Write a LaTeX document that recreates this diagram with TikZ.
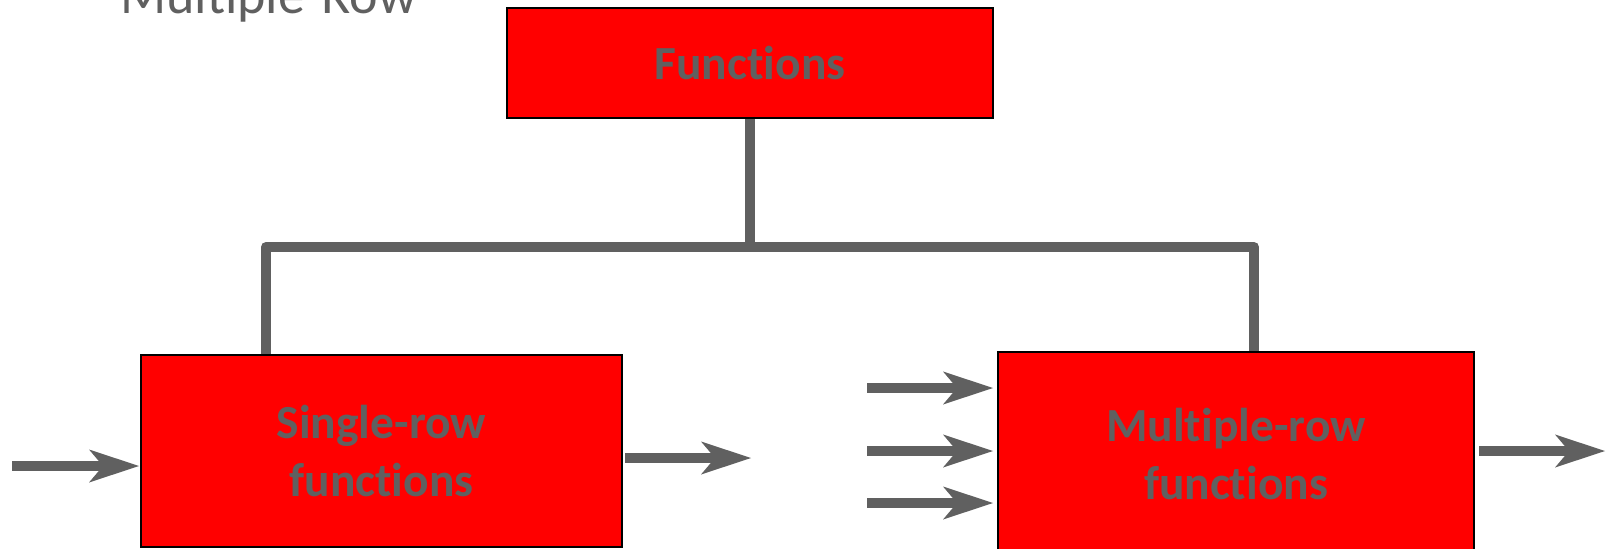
\documentclass[tikz,border=0pt]{standalone}
\usepackage{fontspec}
\setmainfont{Carlito}[Ligatures={NoCommon,NoRare,NoContextual}, Contextuals={NoAlternate}]
\usetikzlibrary{arrows.meta}
\definecolor{linegray}{HTML}{606060}
\definecolor{boxred}{HTML}{FF0000}
\tikzset{
  box/.style={draw=black, line width=2pt, fill=boxred, text=linegray,
    font=\fontsize{47.5}{57.5}\selectfont\bfseries, align=center, inner sep=0pt},
  conn/.style={draw=linegray, line width=10pt, line cap=butt, line join=round},
  arr/.style={draw=linegray, line width=10pt, line cap=butt,
    -{Stealth[length=50pt, width=33pt, inset=14pt, line width=0pt]}},
}
\begin{document}
\begin{tikzpicture}[x=1pt, y=-1pt]
\useasboundingbox (0,0) rectangle (1607,549);
\clip (0,0) rectangle (1607,549);
\fill[white] (0,0) rectangle (1607,549);
% title (cut off at top, as in the reference)
\node[anchor=base west, inner sep=0pt, text=linegray, font=\fontsize{54}{60}\selectfont] (title) at (120,13) {Multiple-Row};
% boxes
\node[box, minimum width=486pt, minimum height=110pt] (fun) at (750,63) {Functions};
\node[box, minimum width=481pt, minimum height=192pt] (single) at (381.5,451) {Single-row\\functions};
\node[box, minimum width=476pt, minimum height=204pt] (multi) at (1236,454) {Multiple-row\\functions};
% tree connectors
\coordinate (barL) at (266,247);
\coordinate (barR) at (1254,247);
\draw[conn] (fun.south) -- (fun.south |- barL);
\draw[conn] (single.north -| barL) -- (barL) -- (barR) -- (multi.north -| barR);
% arrows
\coordinate (inL) at (12,466);
\draw[arr] (inL) -- ([xshift=-1pt]single.west |- inL);
\coordinate (outS) at (751,458);
\draw[arr] ([xshift=2pt]single.east |- outS) -- (outS);
\coordinate (inM1) at (867,388);
\coordinate (inM2) at (867,451);
\coordinate (inM3) at (867,503);
\draw[arr] (inM1) -- ([xshift=-4pt]multi.west |- inM1);
\draw[arr] (inM2) -- ([xshift=-4pt]multi.west |- inM2);
\draw[arr] (inM3) -- ([xshift=-4pt]multi.west |- inM3);
\coordinate (outM) at (1605,451);
\draw[arr] ([xshift=4pt]multi.east |- outM) -- (outM);
\end{tikzpicture}
\end{document}
